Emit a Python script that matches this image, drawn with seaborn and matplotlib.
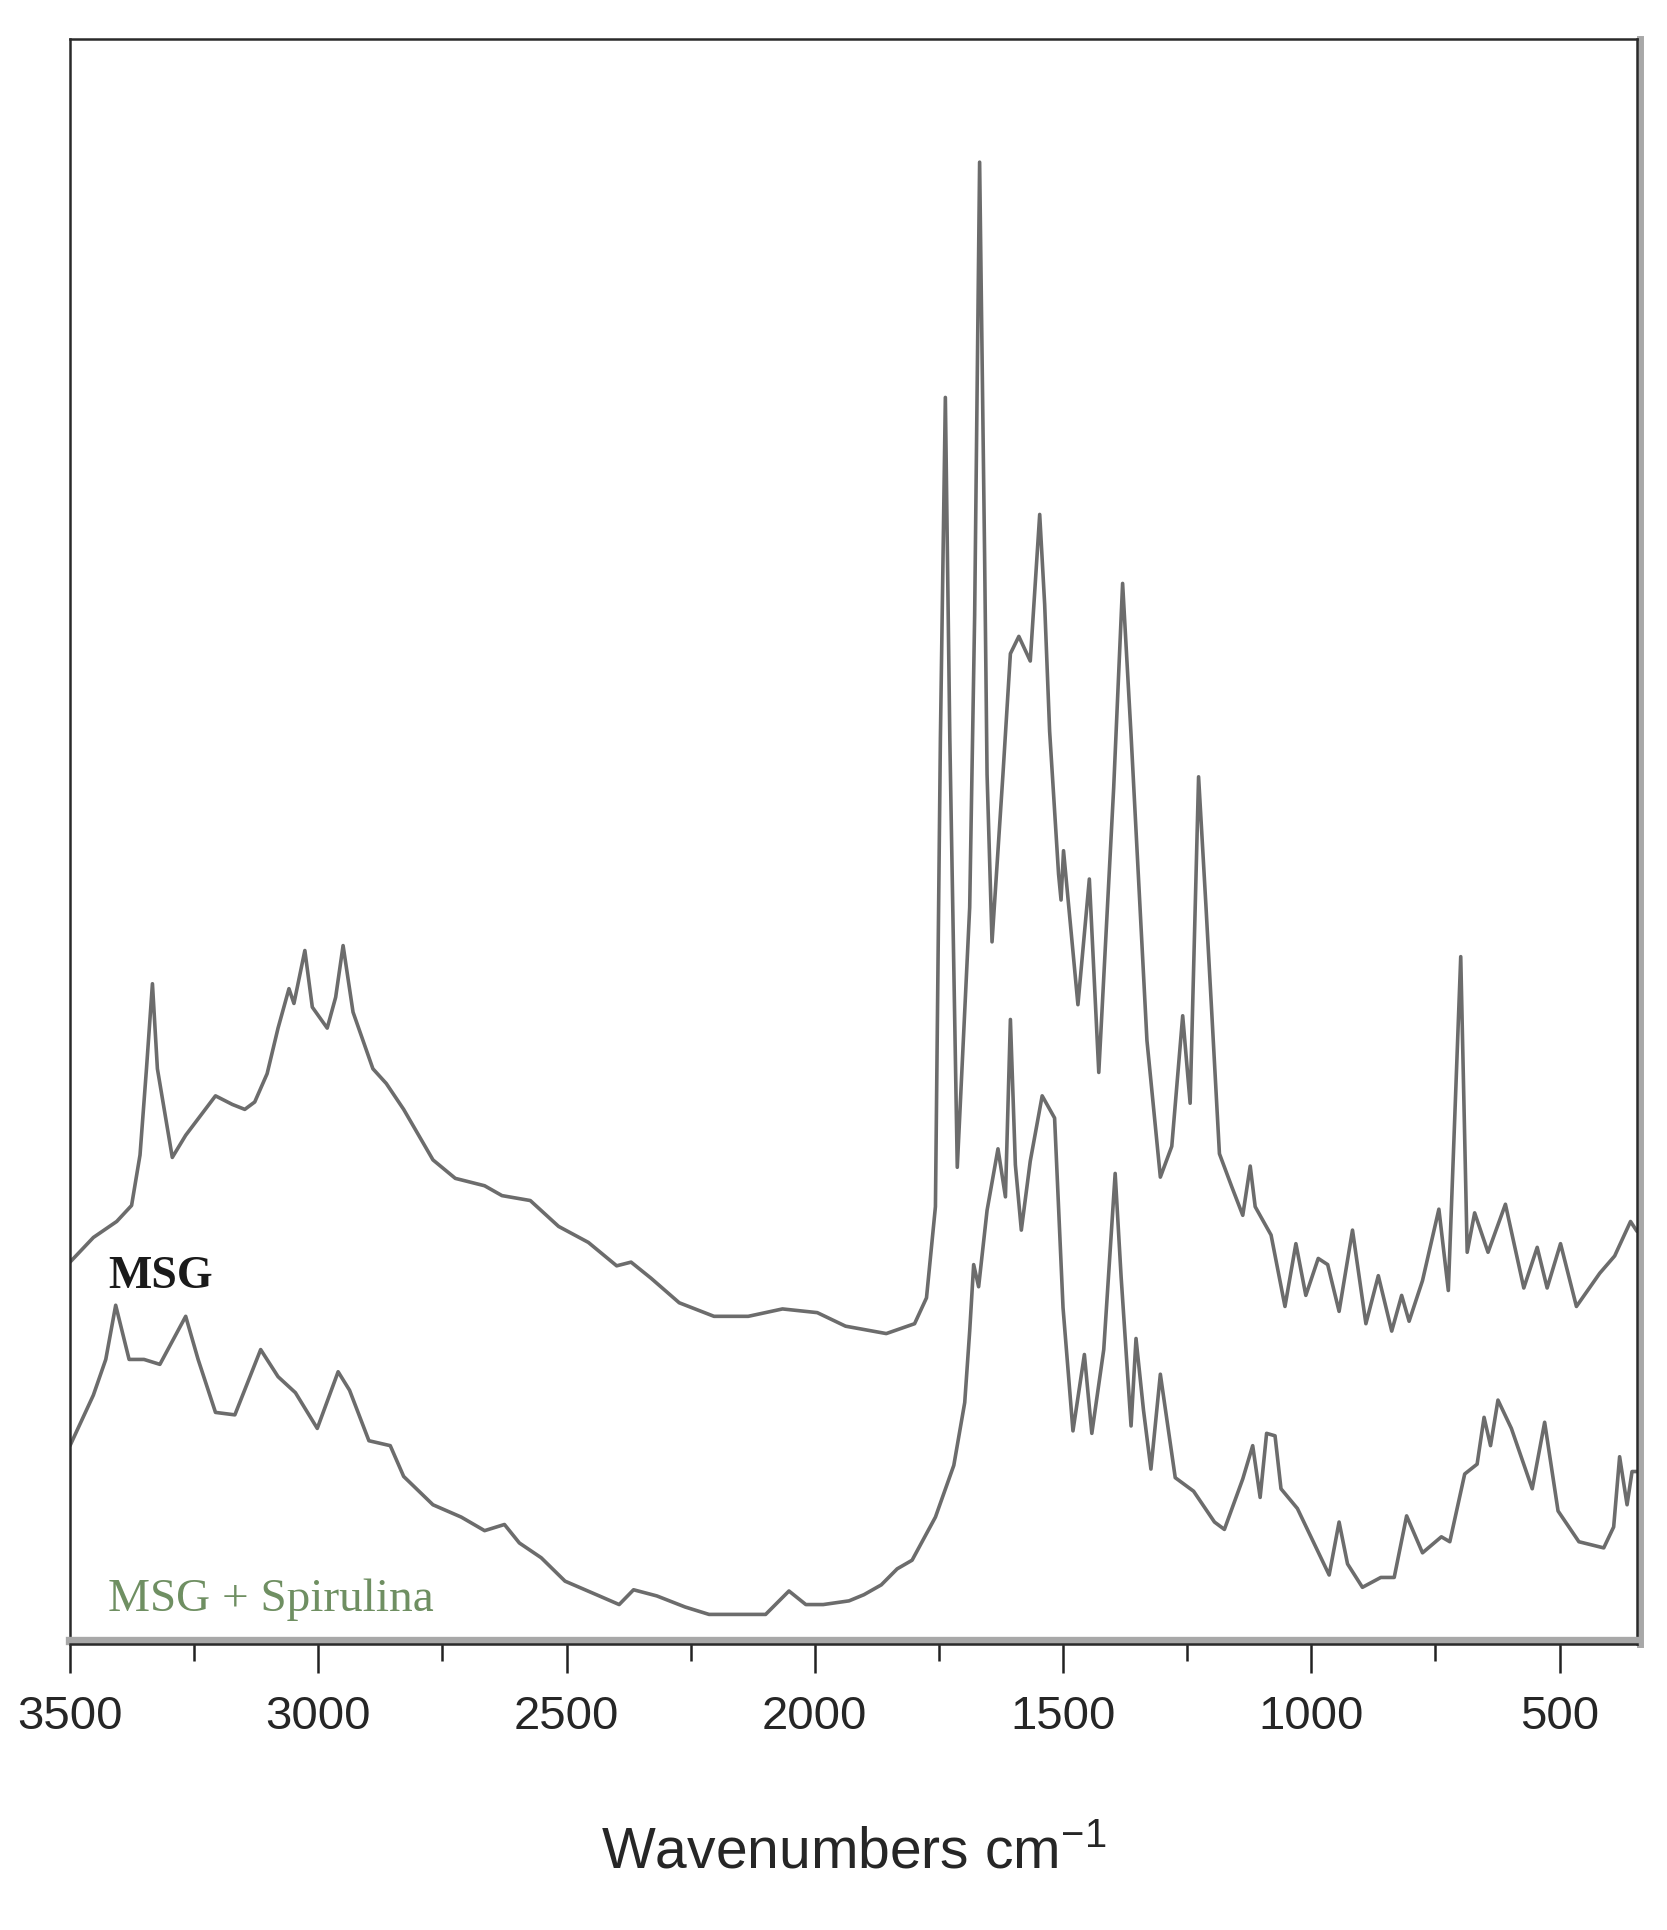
import pandas as pd
import matplotlib
matplotlib.use("Agg")
import matplotlib.pyplot as plt
import matplotlib.patheffects as pe
from matplotlib import font_manager
from matplotlib.ticker import MultipleLocator
import seaborn as sns

# FTIR spectra (wavenumber in cm-1, intensity in arbitrary units)
msg_wn = [3500, 3453, 3406, 3376, 3359, 3346, 3334, 3324, 3294, 3267, 3207, 3173, 3148, 3128,
          3103, 3081, 3059, 3049, 3027, 3012, 2982, 2965, 2950, 2930, 2890, 2863, 2828, 2769,
          2724, 2665, 2630, 2573, 2516, 2456, 2399, 2370, 2330, 2273, 2203, 2134, 2065, 1995,
          1938, 1856, 1799, 1775, 1757, 1747, 1737, 1728, 1713, 1688, 1678, 1668, 1658, 1653,
          1643, 1621, 1606, 1589, 1566, 1547, 1537, 1527, 1509, 1504, 1499, 1470, 1447, 1428,
          1398, 1380, 1363, 1331, 1304, 1281, 1259, 1244, 1227, 1212, 1185, 1160, 1138, 1123,
          1113, 1081, 1053, 1031, 1011, 986, 967, 944, 917, 890, 865, 838, 818, 803, 776, 743,
          724, 699, 686, 671, 644, 609, 572, 545, 525, 498, 466, 419, 389, 357, 344]
msg_abs = [310, 330, 343, 356, 397, 467, 536, 467, 395, 413, 445, 438, 434, 440,
           463, 500, 532, 520, 563, 517, 500, 525, 567, 513, 467, 455, 434, 393,
           378, 372, 364, 360, 339, 326, 307, 310, 297, 277, 266, 266, 272, 269,
           258, 252, 260, 281, 355, 735, 1012, 735, 387, 598, 835, 1203, 885, 706,
           570, 706, 804, 818, 798, 917, 844, 741, 625, 604, 644, 519, 621, 464,
           695, 861, 738, 490, 379, 404, 510, 439, 704, 598, 398, 371, 348, 388,
           355, 332, 274, 325, 283, 313, 308, 270, 336, 260, 299, 254, 283, 262, 295, 353,
           287, 558, 318, 350, 318, 357, 289, 322, 289, 325, 274, 301, 315, 343, 335]

spir_wn = [3500, 3453, 3428, 3408, 3381, 3351, 3319, 3267, 3242, 3207, 3168, 3116, 3081, 3046,
           3002, 2960, 2937, 2898, 2855, 2828, 2769, 2712, 2665, 2625, 2595, 2551, 2503, 2434,
           2394, 2365, 2318, 2261, 2213, 2099, 2052, 2018, 1983, 1931, 1901, 1866, 1834, 1804,
           1757, 1720, 1698, 1688, 1680, 1670, 1653, 1631, 1616, 1606, 1596, 1584, 1566, 1542,
           1517, 1500, 1480, 1457, 1442, 1418, 1395, 1383, 1363, 1353, 1338, 1323, 1304, 1274,
           1237, 1195, 1175, 1138, 1118, 1103, 1090, 1073, 1061, 1028, 996, 964, 944, 927, 897,
           860, 833, 808, 776, 738, 721, 691, 666, 652, 639, 624, 597, 555, 530, 503, 461, 411,
           391, 379, 364, 354, 344]
spir_abs = [161, 202, 231, 275, 231, 231, 227, 266, 231, 188, 186, 239, 217, 204,
            175, 221, 206, 165, 161, 136, 113, 103, 92, 97, 82, 70, 51, 39,
            32, 44, 39, 30, 24, 24, 43, 32, 32, 35, 40, 48, 61, 68,
            103, 145, 196, 254, 308, 290, 352, 402, 363, 507, 389, 336, 392, 445,
            427, 273, 173, 235, 171, 239, 382, 298, 177, 248, 190, 142, 219, 135,
            124, 99, 93, 134, 161, 119, 171, 169, 126, 110, 83, 56, 99, 65, 46,
            54, 54, 104, 74, 87, 83, 138, 146, 184, 161, 198, 175, 126, 180, 108, 83, 78,
            95, 152, 113, 140, 140]

x_ticks = [3500, 3000, 2500, 2000, 1500, 1000, 500]
x_label = "Wavenumbers cm$^{-1}$"

sns.set_theme(style="ticks")
available = {f.name for f in font_manager.fontManager.ttflist}
if "Liberation Sans Narrow" in available:
    sans, tick_size, label_size = "Liberation Sans Narrow", 41, 50
else:
    sans, tick_size, label_size = "Liberation Sans", 34, 41
plt.rcParams["font.family"] = [sans, "DejaVu Sans"]
plt.rcParams["mathtext.fontset"] = "custom"
plt.rcParams["mathtext.rm"] = sans
plt.rcParams["mathtext.it"] = sans
plt.rcParams["mathtext.bf"] = sans

fig = plt.figure(figsize=(16.67, 19.30), dpi=100)
ax = fig.add_axes([0.042, 0.1482, 0.940, 0.8316])

line_col = "#6c6c6c"
for wn, ab in [(msg_wn, msg_abs), (spir_wn, spir_abs)]:
    sns.lineplot(x=wn, y=ab, sort=False, estimator=None, color=line_col, lw=2.6,
                 solid_joinstyle="round", ax=ax)

ax.set_xlim(3500, 344)
ax.set_ylim(0, 1303)
ax.set_xticks(x_ticks)
ax.set_xticklabels([str(t) for t in x_ticks])
ax.xaxis.set_minor_locator(MultipleLocator(250))
ax.set_yticks([])
ax.set_ylabel("")
ax.set_xlabel(x_label, fontsize=label_size, labelpad=62)
ax.tick_params(axis="x", which="major", length=21, width=1.8, pad=16,
               labelsize=tick_size, color="#222222", direction="out")
ax.tick_params(axis="x", which="minor", length=12, width=1.8, color="#222222", direction="out")

# spines: dark line with a grey band, like the scanned original
for side in ["left", "top", "right", "bottom"]:
    ax.spines[side].set_visible(True)
    ax.spines[side].set_color("#2a2a2a")
    ax.spines[side].set_linewidth(1.8)
ax.spines["bottom"].set_path_effects([pe.Stroke(linewidth=6, foreground="#a8a8a8", offset=(0, 2.5)), pe.Normal()])
ax.spines["right"].set_path_effects([pe.Stroke(linewidth=5, foreground="#a8a8a8", offset=(2.5, 0)), pe.Normal()])

ax.text(3423, 289, "MSG", fontsize=33, fontweight="bold", family="Liberation Serif",
        color="#1a1a1a", ha="left", va="baseline")
ax.text(3423, 27, "MSG + Spirulina", fontsize=34, family="Liberation Serif",
        color="#6f8f62", ha="left", va="baseline")

fig.savefig("out.png", dpi=100, facecolor="white")
